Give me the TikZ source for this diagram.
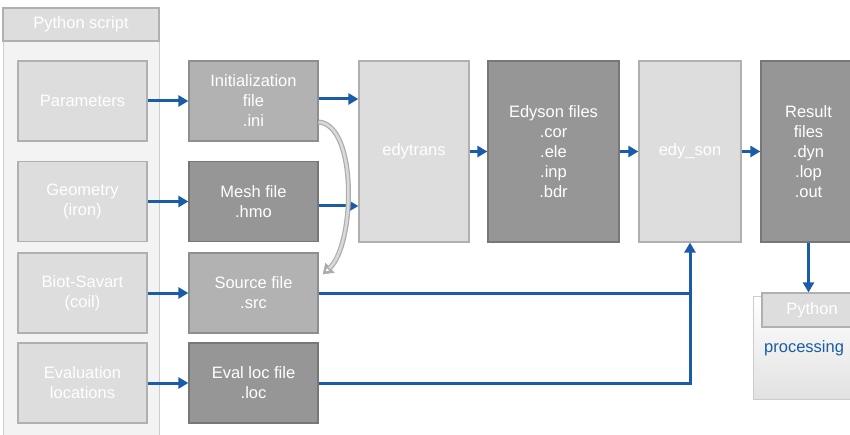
\documentclass[tikz,border=0pt]{standalone}
\usepackage{fontspec}
\setmainfont{Liberation Sans}
\usetikzlibrary{arrows.meta}
\definecolor{lightfill}{HTML}{DDDDDD}
\definecolor{lightedge}{HTML}{B0B0B0}
\definecolor{midfill}{HTML}{B2B2B2}
\definecolor{midedge}{HTML}{8E8E8E}
\definecolor{darkfill}{HTML}{969696}
\definecolor{darkedge}{HTML}{777777}
\definecolor{arrowblue}{HTML}{1A5CA8}
\definecolor{panelfill}{HTML}{F3F3F3}
\definecolor{paneledge}{HTML}{CCCCCC}
\begin{document}
\begin{tikzpicture}[x=1pt,y=-1pt,
  box/.style={draw, line width=1.2pt, text=white, align=center, inner sep=0pt,
    font=\fontsize{16.5}{20}\selectfont},
  lightbox/.style={box, fill=lightfill, draw=lightedge},
  midbox/.style={box, fill=midfill, draw=midedge},
  darkbox/.style={box, fill=darkfill, draw=darkedge},
  side/.style={minimum width=129pt, minimum height=80pt},
  tall/.style={minimum height=181pt},
  arr/.style={draw=arrowblue, line width=3pt, -{Triangle[length=10pt,width=11pt]}},
  plainline/.style={draw=arrowblue, line width=3pt}]
\useasboundingbox (0,0) rectangle (850,435);
\clip (0,0) rectangle (850,435);
% Python script panel
\node[draw=paneledge, fill=panelfill, line width=1pt, minimum width=156pt, minimum height=440pt, inner sep=0pt] (panel) at (81,228) {};
\node[box, fill=lightfill, draw=lightedge, minimum width=156pt, minimum height=33pt] (panelhdr) at (81,24.5) {Python script};
% left column
\node[lightbox, side] (par) at (82.5,101) {Parameters};
\node[lightbox, side] (geo) at (82.5,201.5) {Geometry\\(iron)};
\node[lightbox, side] (bio) at (82.5,293) {Biot-Savart\\(coil)};
\node[lightbox, side] (evl) at (82.5,383) {Evaluation\\locations};
% middle column
\node[midbox, side] (ini) at (253.5,101) {Initialization\\file\\.ini};
\node[darkbox, side] (hmo) at (253.5,201.5) {Mesh file\\.hmo};
\node[midbox, side] (src) at (253.5,293) {Source file\\.src};
\node[darkbox, side] (loc) at (253.5,383) {Eval loc file\\.loc};
% processing chain
\node[lightbox, tall, minimum width=110pt] (edytrans) at (414,151.5) {edytrans};
\node[darkbox, tall, minimum width=131pt] (edyson) at (553.5,151.5) {Edyson files\\.cor\\.ele\\.inp\\.bdr};
\node[lightbox, tall, minimum width=102pt] (edyson2) at (690,151.5) {edy\_son};
\node[darkbox, tall, minimum width=95pt] (result) at (808.5,151.5) {Result\\files\\.dyn\\.lop\\.out};
% Python processing panel
\node[draw=paneledge, line width=1pt, top color=white, bottom color=panelfill!85!gray, minimum width=110pt, minimum height=103pt, inner sep=0pt] (ppanel) at (808,347.5) {};
\node[box, fill=lightfill, draw=lightedge, minimum width=100pt, minimum height=34pt] (phdr) at (812,310) {Python};
\node[anchor=west, inner sep=0pt, text=arrowblue, font=\fontsize{16.5}{20}\selectfont] (proc) at (764,348) {processing};
% arrows
\draw[arr] (par.east) -- (ini.west);
\draw[arr] (geo.east) -- (hmo.west);
\draw[arr] (bio.east) -- (src.west);
\draw[arr] (evl.east) -- (loc.west);
\draw[arr] ([yshift=2pt]ini.east) -- ([yshift=2pt]ini.east -| edytrans.west);
\draw[arr] ([yshift=-4.5pt]hmo.east) -- ([yshift=-4.5pt]hmo.east -| edytrans.west);
\draw[arr] (edytrans.east) -- (edyson.west);
\draw[arr] (edyson.east) -- (edyson2.west);
\draw[arr] (edyson2.east) -- (result.west);
\draw[plainline] (src.east) -- (src.east -| edyson2.south);
\draw[arr] (loc.east) -| (edyson2.south);
\draw[arr] (result.south) -- (result.south |- phdr.north);
% curved grey arrow
\coordinate (cstart) at ([yshift=-21pt]ini.east);
\coordinate (cend) at ([xshift=4pt,yshift=-22pt]src.north east);
\draw[draw=gray!65, line width=5pt, -{Triangle[open, length=10pt, width=13pt]}]
  (cstart) .. controls (358,125) and (355,245) .. (cend);
\draw[draw=gray!30, line width=2.6pt, shorten >=9pt]
  (cstart) .. controls (358,125) and (355,245) .. (cend);
\end{tikzpicture}
\end{document}
